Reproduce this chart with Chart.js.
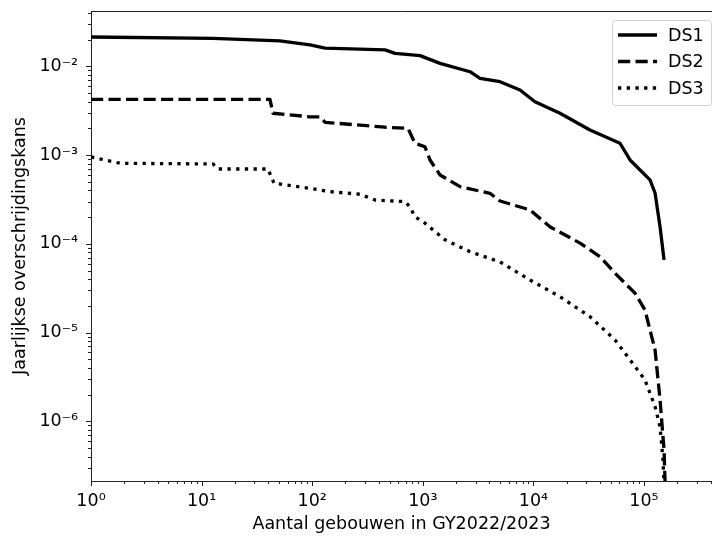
<!DOCTYPE html>
<html>
<head>
<meta charset="utf-8">
<script src="https://cdn.jsdelivr.net/npm/chart.js@4"></script>
<style>
  html, body { margin: 0; padding: 0; background: #fff; }
  #wrap { width: 712px; height: 538px; position: relative; }
</style>
</head>
<body>
<div id="wrap"><canvas id="chart"></canvas></div>
<script>
// values (log-log), per damage state
const ds1X = [1, 12.7, 51, 95.5, 131, 455, 561, 944, 1432, 2673, 3290, 4990, 7570, 10330, 17400, 32500, 60700, 74800, 113300, 125900, 139700, 151800];
const ds1Y = [0.0214, 0.0207, 0.0194, 0.0174, 0.0160, 0.0153, 0.0140, 0.0132, 0.0108, 0.00869, 0.00732, 0.00671, 0.00541, 0.00399, 0.00296, 0.00192, 0.00136, 0.000881, 0.000525, 0.000374, 0.000156, 6.6e-5];

const ds2X = [1, 41.5, 44.2, 95.5, 117.7, 131, 455, 735, 850, 1046, 1162, 1432, 2170, 4050, 4990, 9310, 14100, 26400, 40000, 54700, 82900, 102000, 125900, 139700, 151800, 158000];
const ds2Y = [0.00425, 0.00425, 0.00296, 0.0027, 0.0027, 0.00234, 0.00206, 0.0020, 0.00136, 0.00124, 0.00088, 0.000597, 0.000441, 0.000371, 0.000304, 0.000241, 0.000156, 0.000102, 7.18e-5, 4.67e-5, 2.78e-5, 1.80e-5, 6.39e-6, 1.75e-6, 4.78e-7, 1e-7];

const ds3X = [1, 1.83, 12.7, 14.1, 39.8, 45.2, 95.5, 145, 270, 370, 690, 765, 850, 1046, 1588, 2673, 4990, 9310, 17400, 32500, 54700, 74800, 102000, 125900, 139700, 148600, 155000];
const ds3Y = [0.000953, 0.000809, 0.000794, 0.000697, 0.000697, 0.000481, 0.000422, 0.000387, 0.000362, 0.000312, 0.000299, 0.000262, 0.000202, 0.000171, 0.000111, 8.17e-5, 6.25e-5, 3.92e-5, 2.54e-5, 1.51e-5, 8.28e-6, 4.93e-6, 2.94e-6, 1.47e-6, 8.74e-7, 3.68e-7, 1e-7];

const seriesLabels = ['DS1', 'DS2', 'DS3'];

// axis ranges and decades that get a label
const xRange = [1, 4.12e5];
const yRange = [2.13e-7, 0.042];
const xDecades = [0, 1, 2, 3, 4, 5];
const yDecades = [-7, -6, -5, -4, -3, -2, -1];

const FONT_SIZE = 17.5;

const SUP = { '-': '\u207B', '0': '\u2070', '1': '\u00B9', '2': '\u00B2', '3': '\u00B3', '4': '\u2074', '5': '\u2075', '6': '\u2076', '7': '\u2077', '8': '\u2078', '9': '\u2079' };
const powLabel = e => '10' + String(e).split('').map(c => SUP[c]).join('');

function isDecade(v) {
  const e = Math.log10(v);
  return Math.abs(e - Math.round(e)) < 1e-9;
}

// majors at 10^k, minors at 2..9 x 10^k, inside the range
function logTicks(decades, min, max) {
  const out = [];
  decades.forEach(e => {
    for (let m = 1; m <= 9; m++) {
      const v = m * Math.pow(10, e);
      if (v >= min * 0.999999 && v <= max) out.push({ value: v });
    }
  });
  return out;
}

const pts = (xs, ys) => xs.map((x, i) => ({ x: x, y: ys[i] }));

const axisDecor = {
  id: 'axisDecor',
  afterDraw(chart) {
    const { ctx, chartArea: a, scales } = chart;
    ctx.save();
    ctx.strokeStyle = '#222';
    ctx.lineWidth = 1;
    ctx.beginPath();
    // top spine
    ctx.moveTo(a.left, a.top + 0.5);
    ctx.lineTo(a.right, a.top + 0.5);
    scales.x.ticks.forEach(t => {
      const px = Math.round(scales.x.getPixelForValue(t.value)) + 0.5;
      const len = isDecade(t.value) ? 5 : 3;
      ctx.moveTo(px, a.bottom);
      ctx.lineTo(px, a.bottom + len);
    });
    scales.y.ticks.forEach(t => {
      const py = Math.round(scales.y.getPixelForValue(t.value)) + 0.5;
      const len = isDecade(t.value) ? 5 : 3;
      ctx.moveTo(a.left, py);
      ctx.lineTo(a.left - len, py);
    });
    ctx.stroke();

    // legend box, top right inside the axes
    const bx = 612, by = 20, bw = 99, bh = 85;
    ctx.beginPath();
    ctx.roundRect(bx + 0.5, by + 0.5, bw, bh, 3);
    ctx.fillStyle = 'rgba(255,255,255,0.8)';
    ctx.fill();
    ctx.strokeStyle = '#d0d0d0';
    ctx.stroke();
    ctx.font = FONT_SIZE + 'px "DejaVu Sans"';
    ctx.textBaseline = 'middle';
    ctx.textAlign = 'left';
    chart.data.datasets.forEach((ds, i) => {
      const yy = 35 + i * 26.5;
      ctx.beginPath();
      ctx.setLineDash(ds.borderDash || []);
      ctx.lineWidth = ds.borderWidth;
      ctx.strokeStyle = ds.borderColor;
      ctx.lineCap = 'butt';
      ctx.moveTo(618, yy);
      ctx.lineTo(657, yy);
      ctx.stroke();
      ctx.setLineDash([]);
      ctx.fillStyle = '#000';
      ctx.fillText(ds.label, 668, yy + 1);
    });
    ctx.restore();
  }
};

const lineStyle = {
  borderColor: '#000',
  borderWidth: 3.3,
  pointRadius: 0,
  tension: 0,
  fill: false,
  clip: 0,
  borderCapStyle: 'butt',
  borderJoinStyle: 'round'
};

Chart.defaults.font.family = '"DejaVu Sans", sans-serif';
Chart.defaults.color = '#000';

new Chart(document.getElementById('chart'), {
  type: 'line',
  data: {
    datasets: [
      Object.assign({ label: seriesLabels[0], data: pts(ds1X, ds1Y) }, lineStyle),
      Object.assign({ label: seriesLabels[1], data: pts(ds2X, ds2Y), borderDash: [12.2, 5.3] }, lineStyle),
      Object.assign({ label: seriesLabels[2], data: pts(ds3X, ds3Y), borderDash: [3.3, 5.4] }, lineStyle)
    ]
  },
  options: {
    responsive: true,
    maintainAspectRatio: false,
    animation: false,
    layout: { padding: { top: 11, right: 0, bottom: 0, left: 0 } },
    plugins: {
      legend: { display: false },
      tooltip: { enabled: false }
    },
    scales: {
      x: {
        type: 'logarithmic',
        min: xRange[0],
        max: xRange[1],
        afterBuildTicks: s => { s.ticks = logTicks(xDecades, xRange[0], xRange[1]); },
        afterFit: s => { s.height = 57; s.paddingLeft = 0; s.paddingRight = 0; },
        grid: { display: true, drawOnChartArea: false, drawTicks: false },
        border: { display: true, color: '#222', width: 1 },
        ticks: {
          autoSkip: false,
          maxRotation: 0,
          minRotation: 0,
          padding: 10,
          font: { size: FONT_SIZE },
          callback: v => isDecade(v) ? powLabel(Math.round(Math.log10(v))) : ''
        },
        title: {
          display: true,
          text: 'Aantal gebouwen in GY2022/2023',
          font: { size: FONT_SIZE },
          padding: { top: 0, bottom: 3 }
        }
      },
      y: {
        type: 'logarithmic',
        min: yRange[0],
        max: yRange[1],
        afterBuildTicks: s => { s.ticks = logTicks(yDecades, yRange[0], yRange[1]); },
        afterFit: s => { s.width = 91; s.paddingTop = 0; s.paddingBottom = 0; },
        grid: { display: true, drawOnChartArea: false, drawTicks: false },
        border: { display: true, color: '#222', width: 1 },
        ticks: {
          autoSkip: false,
          padding: 13,
          font: { size: FONT_SIZE },
          callback: v => isDecade(v) ? powLabel(Math.round(Math.log10(v))) : ''
        },
        title: {
          display: true,
          text: 'Jaarlijkse overschrijdingskans',
          font: { size: FONT_SIZE },
          padding: { top: 9.5, bottom: 0 }
        }
      }
    }
  },
  plugins: [axisDecor]
});
</script>
</body>
</html>
